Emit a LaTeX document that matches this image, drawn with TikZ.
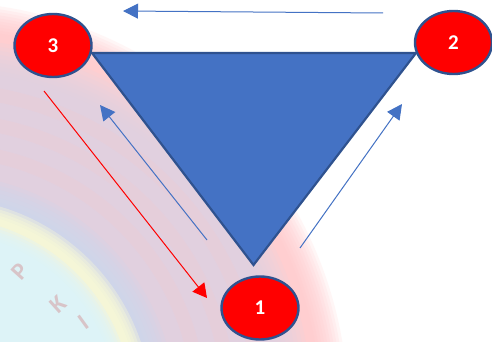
\documentclass[tikz,border=0pt]{standalone}
\usepackage{fontspec}
\setmainfont{Carlito}
\usetikzlibrary{arrows.meta,shapes.geometric}
\definecolor{triblue}{HTML}{4472C4}
\definecolor{edgeblue}{HTML}{2F528F}
\definecolor{sealpink}{HTML}{FFC4C6}
\definecolor{sealblue}{HTML}{CBD9EE}
\definecolor{sealmid}{HTML}{DCD6E6}
\definecolor{sealyellow}{HTML}{FCFCD6}
\definecolor{sealcyan}{HTML}{DDF3FB}
\definecolor{sealmark}{HTML}{D8C4C8}
\tikzset{
  x=1pt,y=-1pt,
  vertex/.style={ellipse,draw=edgeblue,line width=2.4pt,fill=red,text=white,font=\fontsize{21}{21}\selectfont\bfseries,inner sep=0pt,minimum width=77pt,minimum height=63pt},
  flow/.style={draw=triblue,line width=1pt,-{Triangle[length=15pt,width=15pt,fill=triblue]}},
  back/.style={draw=red,line width=1pt,-{Triangle[length=14pt,width=15pt,fill=red]}},
  seal/.style={font=\fontsize{24}{24}\selectfont\bfseries,text=sealmark}
}
\begin{document}
\begin{tikzpicture}
\useasboundingbox (0,0) rectangle (492,342);
\fill[white] (0,0) rectangle (492,342);
\begin{scope}
\clip (0,0) rectangle (492,342);
\coordinate (sc) at (-60,410);
% blurred seal, built from stacked discs
\foreach \r in {408,405,...,381}{
  \fill[sealpink,opacity=.14] (sc) circle[radius=\r];}
\foreach \r in {372,368,...,340}{
  \fill[sealmid,opacity=.16] (sc) circle[radius=\r];}
\foreach \r in {320,290,260}{
  \draw[sealpink,opacity=.16,line width=14pt] (sc) circle[radius=\r];}
\foreach \r in {236,232,...,216}{
  \fill[sealblue,opacity=.2] (sc) circle[radius=\r];}
\foreach \r in {212,209,...,200}{
  \fill[sealyellow,opacity=.35] (sc) circle[radius=\r];}
\foreach \r in {193,190,...,178}{
  \fill[sealcyan,opacity=.35] (sc) circle[radius=\r];}
\node[seal,rotate=48] at (20,272) {P};
\node[seal,rotate=42] at (58,304) {K};
\node[seal,rotate=36] at (84,322) {I};
\end{scope}
% triangle
\coordinate (tl) at (92,53);
\coordinate (tr) at (416,53);
\coordinate (tb) at (253.5,265);
\draw[edgeblue,fill=triblue,line width=2.2pt,line join=miter] (tl) -- (tr) -- (tb) -- cycle;
% vertices
\node[vertex] (n3) at (53,45.5) {3};
\node[vertex] (n2) at (453.5,42.5) {2};
\node[vertex] (n1) at (260,308) {1};
% arrow ends
\coordinate (a1) at (383,13);
\coordinate (a2) at (123,11);
\coordinate (b1) at (207,240);
\coordinate (b2) at (100,105);
\coordinate (c1) at (300,248);
\coordinate (c2) at (402,104);
\coordinate (d1) at (44,91);
\coordinate (d2) at (207,298);
\draw[flow] (a1) -- (a2);
\draw[flow] (b1) -- (b2);
\draw[flow] (c1) -- (c2);
\draw[back] (d1) -- (d2);
\end{tikzpicture}
\end{document}
